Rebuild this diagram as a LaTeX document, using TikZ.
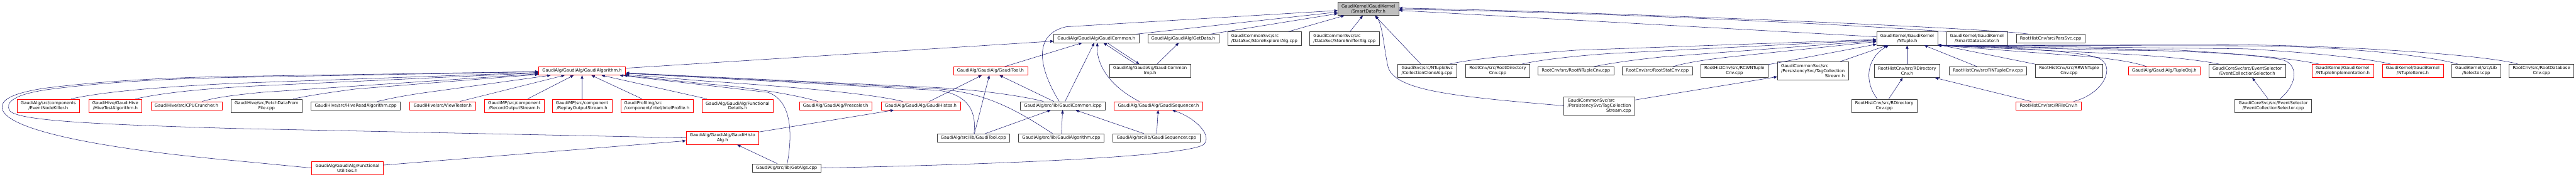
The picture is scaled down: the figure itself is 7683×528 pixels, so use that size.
\documentclass[tikz,border=0pt]{standalone}
\usepackage{fontspec}
\setmainfont{DejaVu Sans}
\usetikzlibrary{arrows.meta,calc}
\definecolor{edgeblue}{HTML}{191970}
\definecolor{boxgray}{HTML}{BFBFBF}
\definecolor{boxline}{HTML}{404040}

\begin{document}
\begin{tikzpicture}[
    x=0.75pt, y=-0.75pt,
    every node/.style={font=\fontsize{9.6}{11.1}\selectfont, inner xsep=8.3pt, inner ysep=1pt, line width=0.75pt},
    block/.style={draw=boxline, align=center, minimum height=18.75pt},
    cut/.style={block, draw=red},
    rootblock/.style={block, fill=boxgray},
    two/.style={minimum height=30pt},
    three/.style={minimum height=41.25pt},
    arr/.style={-{Triangle[length=7.5pt,width=6pt]}, draw=edgeblue, line width=0.75pt}
]
\useasboundingbox (0,0) rectangle (7683,528);

% root
\node[rootblock, two] (sdp) at (4081,26) {GaudiKernel/GaudiKernel\\/SmartDataPtr.h};

% second row
\node[block] (gc) at (3270,115) {GaudiAlg/GaudiAlg/GaudiCommon.h};
\node[block] (gd) at (3529,115) {GaudiAlg/GaudiAlg/GetData.h};
\node[block, two, align=left] (sea) at (3771,115) {GaudiCommonSvc/src\\/DataSvc/StoreExplorerAlg.cpp};
\node[block, two, align=left] (ssa) at (4010,115) {GaudiCommonSvc/src\\/DataSvc/StoreSnifferAlg.cpp};
\node[block, two] (ntp) at (5688,115) {GaudiKernel/GaudiKernel\\/NTuple.h};
\node[block, two] (sdl) at (5896,115) {GaudiKernel/GaudiKernel\\/SmartDataLocator.h};
\node[block] (pers) at (6116,115) {RootHistCnv/src/PersSvc.cpp};

% third row
\node[cut] (ga) at (1736,212) {GaudiAlg/GaudiAlg/GaudiAlgorithm.h};
\node[cut] (gt) at (2954,212) {GaudiAlg/GaudiAlg/GaudiTool.h};
\node[block, two] (gci) at (3430,212) {GaudiAlg/GaudiAlg/GaudiCommon\\Imp.h};
\node[block, two, align=left] (cca) at (4257,212) {GaudiSvc/src/NTupleSvc\\/CollectionCloneAlg.cpp};
\node[block, two] (rdc) at (4467,212) {RootCnv/src/RootDirectory\\Cnv.cpp};
\node[block] (rntc) at (4700,212) {RootCnv/src/RootNTupleCnv.cpp};
\node[block] (rsc) at (4943,212) {RootCnv/src/RootStatCnv.cpp};
\node[block, two] (rcwn) at (5173,212) {RootHistCnv/src/RCWNTuple\\Cnv.cpp};
\node[block, three, align=left] (tcsh) at (5407,212) {GaudiCommonSvc/src\\/PersistencySvc/TagCollection\\\hfill Stream.h\hfill};
\node[block, two] (rdirh) at (5688,212) {RootHistCnv/src/RDirectory\\Cnv.h};
\node[block] (rnt) at (5929,212) {RootHistCnv/src/RNTupleCnv.cpp};
\node[block, two] (rrwn) at (6171,212) {RootHistCnv/src/RRWNTuple\\Cnv.cpp};
\node[cut] (tobj) at (6455,212) {GaudiAlg/GaudiAlg/TupleObj.h};
\node[block, two] (ecsh) at (6702,212) {GaudiCoreSvc/src/EventSelector\\/EventCollectionSelector.h};
\node[cut, two, align=left] (nti) at (6987,212) {GaudiKernel/GaudiKernel\\/NTupleImplementation.h};
\node[cut, two] (ntitems) at (7196,212) {GaudiKernel/GaudiKernel\\/NTupleItems.h};
\node[block, two] (sel) at (7385,212) {GaudiKernel/src/Lib\\/Selector.cpp};
\node[block, two] (rdbc) at (7580,212) {RootCnv/src/RootDatabase\\Cnv.cpp};

% fourth row
\node[cut, two] (enk) at (144,316) {GaudiAlg/src/components\\/EventNodeKiller.h};
\node[cut, two] (htalg) at (344,316) {GaudiHive/GaudiHive\\/HiveTestAlgorithm.h};
\node[cut] (cpu) at (556,316) {GaudiHive/src/CPUCruncher.h};
\node[block, two] (fetch) at (795,316) {GaudiHive/src/FetchDataFrom\\File.cpp};
\node[block] (hread) at (1061,316) {GaudiHive/src/HiveReadAlgorithm.cpp};
\node[cut] (view) at (1320,316) {GaudiHive/src/ViewTester.h};
\node[cut, two] (rec) at (1534,316) {GaudiMP/src/component\\/RecordOutputStream.h};
\node[cut, two] (rep) at (1736,316) {GaudiMP/src/component\\/ReplayOutputStream.h};
\node[cut, two, align=left] (intel) at (1959,316) {GaudiProfiling/src\\/component/intel/IntelProfile.h};
\node[cut, two] (fdet) at (2200,316) {GaudiAlg/GaudiAlg/Functional\\Details.h};
\node[cut] (presc) at (2492,316) {GaudiAlg/GaudiAlg/Prescaler.h};
\node[cut] (ghis) at (2746,316) {GaudiAlg/GaudiAlg/GaudiHistos.h};
\node[block] (gcicpp) at (3170,316) {GaudiAlg/src/lib/GaudiCommon.icpp};
\node[cut] (gseqh) at (3455,316) {GaudiAlg/GaudiAlg/GaudiSequencer.h};
\node[block, three, align=left] (tcscpp) at (4770,316) {GaudiCommonSvc/src\\/PersistencySvc/TagCollection\\\hfill Stream.cpp\hfill};
\node[block, two] (rdircpp) at (5620,316) {RootHistCnv/src/RDirectory\\Cnv.cpp};
\node[cut] (rfile) at (6110,316) {RootHistCnv/src/RFileCnv.h};
\node[block, two] (ecscpp) at (6780,316) {GaudiCoreSvc/src/EventSelector\\/EventCollectionSelector.cpp};

% fifth and sixth rows
\node[cut, two] (gha) at (2155,412) {GaudiAlg/GaudiAlg/GaudiHisto\\Alg.h};
\node[block] (gtcpp) at (2903,412) {GaudiAlg/src/lib/GaudiTool.cpp};
\node[block] (gacpp) at (3165,412) {GaudiAlg/src/lib/GaudiAlgorithm.cpp};
\node[block] (gseqcpp) at (3449,412) {GaudiAlg/src/lib/GaudiSequencer.cpp};
\node[cut, two] (fut) at (1036,502) {GaudiAlg/GaudiAlg/Functional\\Utilities.h};
\node[block] (getalgs) at (2346,502) {GaudiAlg/src/lib/GetAlgs.cpp};

% into the root
\draw[arr] (gc) -- (sdp);
\draw[arr] (gd) -- (sdp);
\draw[arr] ($(gcicpp.north)+(-11,0)$) .. controls (3090,190) and (3088,100) .. (3180,80) -- (sdp);
\draw[arr] (sea) -- (sdp);
\draw[arr] (ssa) -- (sdp);
\draw[arr] (cca) -- (sdp);
\draw[arr] (tcscpp.west) .. controls (4330,288) and (4160,270) .. (4140,200) .. controls (4128,150) and (4125,80) .. ($(sdp.south)+(22,0)$);
\draw[arr] (ntp) -- (sdp);
\draw[arr] (sdl.north west) .. controls (5500,72) and (4700,34) .. ($(sdp.east)+(0,2)$);
\draw[arr] ($(pers.north)+(-65,0)$) .. controls (5950,85) and (4800,36) .. ($(sdp.east)+(0,-2)$);

% GaudiCommon.h and GetData.h
\draw[arr] (ga) -- (gc);
\draw[arr] (gt) -- (gc);
\draw[arr] (gcicpp) -- (gc);
\draw[arr] ($(gseqh.north)+(-57,0)$) .. controls (3295,250) and (3270,180) .. ($(gc.south)+(3,0)$);
\draw[arr] ($(gci.north)+(-43,0)$) -- ($(gc.south)+(21,0)$);
\draw[arr] ($(gc.south)+(32,0)$) -- ($(gci.north)+(-32,0)$);
\draw[arr] (gci) -- (gd);

% GaudiTool.h
\draw[arr] (ghis) -- (gt);
\draw[arr] (gtcpp) -- (gt);
\draw[arr] (gcicpp) -- (gt);

% GaudiCommon.icpp and GaudiSequencer.h
\draw[arr] (gtcpp) -- (gcicpp);
\draw[arr] (gacpp) -- (gcicpp);
\draw[arr] (gseqcpp) -- (gcicpp);
\draw[arr] (gseqcpp) -- (gseqh);
\draw[arr] (getalgs.east) .. controls (3050,490) and (3560,465) .. (3592,430) .. controls (3615,400) and (3560,350) .. ($(gseqh.south)+(41,0)$);

% GaudiAlgorithm.h
\draw[arr] ($(enk.north)+(68,0)$) .. controls (290,278) and (430,262) .. (700,249) -- (ga);
\draw[arr] ($(htalg.north)+(60,0)$) .. controls (470,281) and (570,267) .. (760,257) -- (ga);
\draw[arr] ($(cpu.north)+(47,0)$) .. controls (640,292) and (690,285) .. (780,276) -- (ga);
\draw[arr] ($(fetch.north)+(79,0)$) .. controls (925,285) and (985,276) .. (1060,266) -- (ga);
\draw[arr] ($(hread.north)+(65,0)$) .. controls (1165,294) and (1205,286) .. (1260,278) -- (ga);
\draw[arr] (view) -- (ga);
\draw[arr] (rec) -- (ga);
\draw[arr] (rep) -- (ga);
\draw[arr] (intel) -- (ga);
\draw[arr] (fdet) -- (ga);
\draw[arr] ($(presc.north)+(-53,0)$) .. controls (2380,285) and (2250,262) .. (2100,250) -- (ga);
\draw[arr] ($(ghis.north)+(-54,0)$) .. controls (2640,290) and (2500,268) .. (2100,242) -- (ga);
\draw[arr] ($(getalgs.north)+(2,0)$) .. controls (2364,400) and (2362,300) .. (2290,276) -- (ga);
\draw[arr] ($(gtcpp.north)+(2,0)$) .. controls (2912,340) and (2895,285) .. (2800,270) -- (ga);
\draw[arr] ($(gacpp.north)+(-26,0)$) .. controls (3020,320) and (2930,275) .. (2790,265) -- (ga);
\draw[arr] ($(gcicpp.north)+(-58,0)$) .. controls (3070,292) and (2960,272) .. (2800,262) -- (ga);

% GaudiHistoAlg.h and the loops on the left
\draw[arr] (gha) -- (ghis);
\draw[arr] (getalgs) -- (gha);
\draw[arr] (fut) -- (gha);
\draw[arr] (gha.west) -- (700,384) .. controls (300,372) and (60,362) .. (30,332) .. controls (12,305) and (45,282) .. (140,268) .. controls (320,244) and (520,234) .. (720,231) -- (ga);
\draw[arr] (fut.west) -- (700,480) .. controls (380,452) and (40,400) .. (8,330) .. controls (-2,300) and (30,280) .. (130,264) .. controls (320,240) and (520,231) .. (720,228) -- (ga);

% NTuple.h
\draw[arr] ($(cca.north)+(66,0)$) .. controls (4360,183) and (4450,168) .. (4700,150) -- (ntp);
\draw[arr] ($(rdc.north)+(72,0)$) .. controls (4580,182) and (4660,170) .. (4800,160) -- (ntp);
\draw[arr] ($(rntc.north)+(53,0)$) .. controls (4800,190) and (4860,180) .. (4960,170) -- (ntp);
\draw[arr] ($(rsc.north)+(46,0)$) .. controls (5020,190) and (5070,180) .. (5160,170) -- (ntp);
\draw[arr] (rcwn) -- (ntp);
\draw[arr] (tcsh) -- (ntp);
\draw[arr] ($(rdircpp.north)+(-21,0)$) .. controls (5560,245) and (5565,175) .. ($(ntp.south)+(-55,0)$);
\draw[arr] (rdirh) -- (ntp);
\draw[arr] (rnt) -- (ntp);
\draw[arr] (rrwn) -- (ntp);
\draw[arr] ($(rfile.north)+(75,0)$) .. controls (6275,280) and (6315,195) .. (6255,172) .. controls (6190,152) and (6000,142) .. (ntp.south east);
\draw[arr] ($(tobj.north)+(-52,0)$) .. controls (6370,188) and (6330,180) .. (6240,170) -- (ntp.south east);
\draw[arr] ($(ecsh.north)+(-83,0)$) .. controls (6580,184) and (6500,170) .. (6300,160) -- (ntp.south east);
\draw[arr] ($(ecscpp.north)+(20,0)$) .. controls (6855,250) and (6855,190) .. (6805,178) .. controls (6700,160) and (6500,150) .. (6300,150) -- (ntp.south east);
\draw[arr] ($(nti.north)+(-71,0)$) .. controls (6880,184) and (6800,168) .. (6500,150) -- (ntp.south east);
\draw[arr] ($(ntitems.north)+(-66,0)$) .. controls (7100,184) and (7000,164) .. (6700,146) -- (ntp.south east);
\draw[arr] ($(sel.north)+(-54,0)$) .. controls (7250,168) and (7000,138) .. (6700,137) -- (ntp.south east);
\draw[arr] ($(rdbc.north)+(-70,0)$) .. controls (7440,170) and (7100,140) .. (6700,134) -- (ntp.south east);

% remaining links
\draw[arr] (rdircpp) -- (rdirh);
\draw[arr] (rfile) -- (rdirh);
\draw[arr] (ecscpp) -- (ecsh);
\draw[arr] (tcscpp) -- (tcsh);
\end{tikzpicture}
\end{document}
